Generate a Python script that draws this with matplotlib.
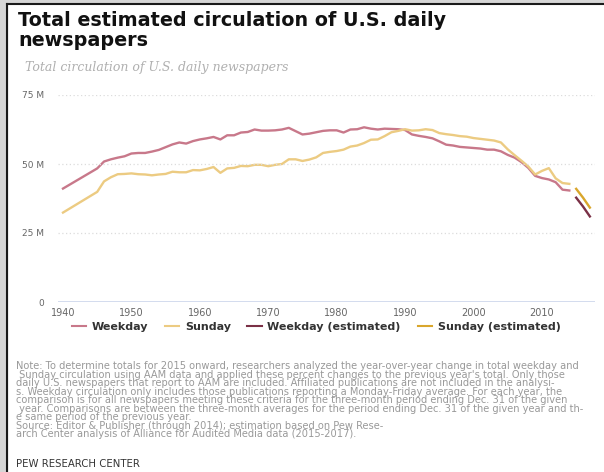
import numpy as np
import matplotlib.pyplot as plt
from matplotlib.lines import Line2D
from matplotlib.patches import Rectangle

# data (millions)
years = [1940] + list(range(1945, 2015))
weekday = [41.1, 48.4, 50.9, 51.7, 52.3, 52.8, 53.8, 54.0, 54.0, 54.5, 55.1,
           56.1, 57.1, 57.8, 57.4, 58.3, 58.9, 59.3, 59.8, 58.9, 60.4,
           60.4, 61.4, 61.6, 62.5, 62.1, 62.1, 62.2, 62.5, 63.1, 61.9,
           60.7, 61.0, 61.5, 62.0, 62.2, 62.2, 61.4, 62.5, 62.6, 63.3,
           62.8, 62.5, 62.8, 62.7, 62.6, 62.3, 60.7, 60.2, 59.8, 59.3,
           58.2, 57.0, 56.7, 56.2, 56.0, 55.8, 55.6, 55.2, 55.2, 54.6,
           53.3, 52.3, 50.7, 48.6, 45.7, 44.9, 44.4, 43.4, 40.7, 40.4]
sunday = [32.4, 39.9, 43.7, 45.2, 46.3, 46.4, 46.6, 46.3, 46.2, 45.9, 46.2,
          46.4, 47.2, 47.0, 47.0, 47.8, 47.7, 48.2, 48.9, 46.8, 48.4,
          48.6, 49.3, 49.2, 49.7, 49.7, 49.2, 49.7, 50.0, 51.7, 51.7,
          51.1, 51.6, 52.4, 54.0, 54.4, 54.7, 55.2, 56.3, 56.7, 57.6,
          58.8, 58.9, 60.1, 61.5, 62.0, 62.6, 62.1, 62.2, 62.6, 62.3,
          61.2, 60.8, 60.5, 60.1, 59.9, 59.4, 59.1, 58.8, 58.5, 57.8,
          55.3, 53.2, 51.2, 49.1, 46.2, 47.5, 48.5, 44.8, 43.1, 42.8]
est_years = [2015, 2016, 2017]
weekday_est = [37.8, 34.6, 31.0]
sunday_est = [41.0, 37.8, 34.2]

c_wk = '#c8788a'
c_su = '#eccb82'
c_wk_est = '#7a3046'
c_su_est = '#d9a62c'

W, H = 604, 472
fig = plt.figure(figsize=(W / 100, H / 100), dpi=100)

# frame around the picture
fig.patches.append(Rectangle((0, 0), 7 / W, 1, transform=fig.transFigure,
                             color='#d6d6d6', zorder=0))
fig.patches.append(Rectangle((0, 1 - 3 / H), 1, 3 / H, transform=fig.transFigure,
                             color='#d6d6d6', zorder=0))
fig.add_artist(Line2D([7.5 / W, 7.5 / W], [0, 1 - 3.5 / H], color='#1a1a1a', lw=1.5))
fig.add_artist(Line2D([7.5 / W, 1], [1 - 3.5 / H, 1 - 3.5 / H], color='#1a1a1a', lw=1.5))

ax = fig.add_axes([58 / W, 1 - 302 / H, 537 / W, 207 / H])
ax.plot(years, weekday, color=c_wk, lw=1.7, clip_on=False)
ax.plot(years, sunday, color=c_su, lw=1.7, clip_on=False)
ax.plot(est_years, weekday_est, color=c_wk_est, lw=1.7, clip_on=False)
ax.plot(est_years, sunday_est, color=c_su_est, lw=1.7, clip_on=False)

ax.set_xlim(1939.27, 2017.75)
ax.set_ylim(0, 75)
ax.set_yticks([0, 25, 50, 75])
ax.set_yticklabels(['0', '25 M', '50 M', '75 M'])
ax.set_xticks(range(1940, 2011, 10))
for s in ax.spines.values():
    s.set_visible(False)
ax.axhline(0, color='#ccd6eb', lw=1.2)
for v in [25, 50, 75]:
    ax.axhline(v, color='#dcdcdc', lw=0.9, ls=(0, (1, 2)))
ax.tick_params(axis='y', length=0, pad=10, labelsize=6.5, labelcolor='#666666')
ax.tick_params(axis='x', length=0, pad=4, labelsize=7, labelcolor='#666666')

# titles
fig.text(18 / W, 1 - 11 / H, 'Total estimated circulation of U.S. daily\nnewspapers',
         ha='left', va='top', fontsize=13.8, fontweight='bold', color='#111111',
         linespacing=1.08)
fig.text(25 / W, 1 - 67 / H, 'Total circulation of U.S. daily newspapers',
         ha='left', va='center', fontsize=9, style='italic', family='DejaVu Serif',
         color='#b0b0b0')

# legend
handles = [Line2D([], [], color=c, lw=1.5) for c in [c_wk, c_su, c_wk_est, c_su_est]]
labels = ['Weekday', 'Sunday', 'Weekday (estimated)', 'Sunday (estimated)']
fig.legend(handles, labels, loc='center', bbox_to_anchor=(316 / W, 1 - 327 / H),
           ncol=4, frameon=False, prop={'size': 8, 'weight': 'bold'},
           labelcolor='#333333', handlelength=1.3, handletextpad=0.5,
           columnspacing=1.5)

note = ("Note: To determine totals for 2015 onward, researchers analyzed the year-over-year change in total weekday and\n"
        " Sunday circulation using AAM data and applied these percent changes to the previous year's total. Only those\n"
        "daily U.S. newspapers that report to AAM are included. Affiliated publications are not included in the analysi-\n"
        "s. Weekday circulation only includes those publications reporting a Monday-Friday average. For each year, the\n"
        "comparison is for all newspapers meeting these criteria for the three-month period ending Dec. 31 of the given\n"
        " year. Comparisons are between the three-month averages for the period ending Dec. 31 of the given year and th-\n"
        "e same period of the previous year.\n"
        "Source: Editor & Publisher (through 2014); estimation based on Pew Rese-\n"
        "arch Center analysis of Alliance for Audited Media data (2015-2017).")
fig.text(16 / W, 1 - 361 / H, note, ha='left', va='top', fontsize=7.1,
         color='#999999', linespacing=0.82)
fig.text(16 / W, 1 - 464 / H, 'PEW RESEARCH CENTER', ha='left', va='center',
         fontsize=7.3, color='#333333')

fig.savefig('out.png', dpi=100)
